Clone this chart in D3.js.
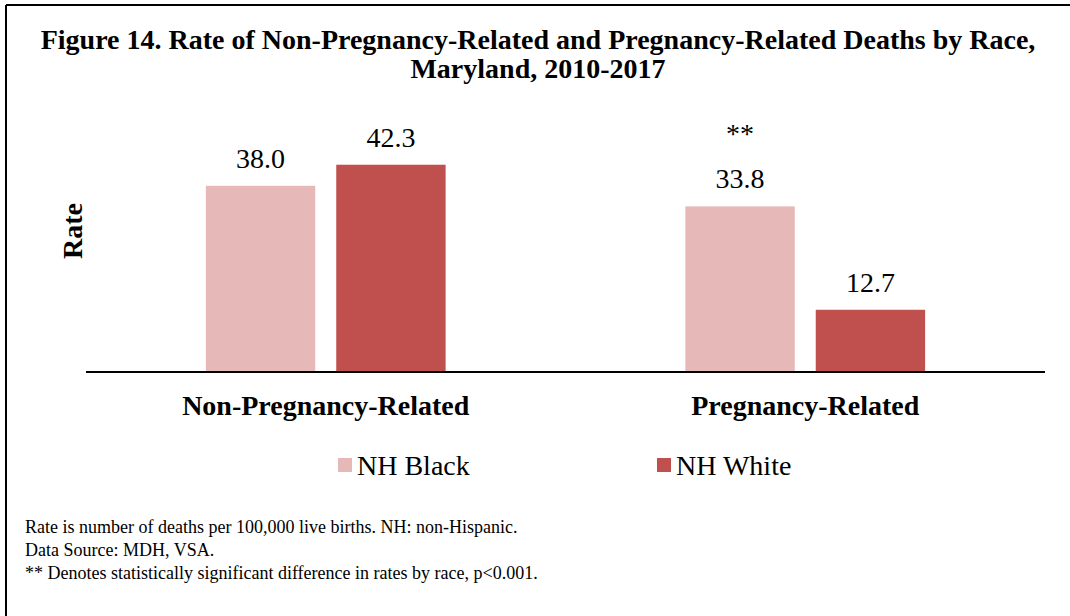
<!DOCTYPE html>
<html lang="en">
<head>
  <meta charset="UTF-8">
  <title>Figure 14. Rate of Non-Pregnancy-Related and Pregnancy-Related Deaths by Race</title>
  <style>
    body { margin: 0; background: #fff; }
    svg { display: block; }
    svg text { font-family: "Liberation Serif", "Times New Roman", serif; fill: #000; }
  </style>
</head>
<body>
  <svg id="chart" width="1070" height="616"></svg>

  <script src="https://d3js.org/d3.v7.min.js"></script>
  <script>
    // data
    const categories = ["Non-Pregnancy-Related", "Pregnancy-Related"];
    const seriesNames = ["NH Black", "NH White"];
    const blackValues = [38.0, 33.8];
    const whiteValues = [42.3, 12.7];
    const significant = [false, true];   // ** marker over the group
    const footnotes = [
      "Rate is number of deaths per 100,000 live births. NH: non-Hispanic.",
      "Data Source: MDH, VSA.",
      "** Denotes statistically significant difference in rates by race, p<0.001."
    ];
    const colors = ["#E6B9B8", "#C0504D"];

    const serif = "Liberation Serif, Times New Roman, serif";
    const svg = d3.select("#chart");
    const plot = { left: 86, right: 1045, top: 127, bottom: 372 };

    // frame (only top and left edges show in the picture)
    svg.append("line").attr("x1", 6).attr("y1", 5).attr("x2", 1070).attr("y2", 5)
      .attr("stroke", "#000").attr("stroke-width", 2);
    svg.append("line").attr("x1", 6).attr("y1", 5).attr("x2", 6).attr("y2", 616)
      .attr("stroke", "#000").attr("stroke-width", 2);

    // title
    const title = svg.append("text")
      .attr("font-family", serif)
      .attr("text-anchor", "middle")
      .attr("font-weight", "bold")
      .attr("font-size", 28);
    title.append("tspan").attr("x", 538).attr("y", 49)
      .text("Figure 14. Rate of Non-Pregnancy-Related and Pregnancy-Related Deaths by Race,");
    title.append("tspan").attr("x", 538).attr("y", 78)
      .text("Maryland, 2010-2017");

    // scales
    const x0 = d3.scaleBand().domain(categories).range([plot.left, plot.right]);
    const x1 = d3.scaleBand().domain(seriesNames)
      .range([x0.bandwidth() * 0.25, x0.bandwidth() * 0.75])
      .paddingInner(0.161);
    const y = d3.scaleLinear().domain([0, 50]).range([plot.bottom, plot.top]);

    const rows = categories.map((c, i) => ({
      category: c,
      sig: significant[i],
      values: [
        { series: seriesNames[0], value: blackValues[i] },
        { series: seriesNames[1], value: whiteValues[i] }
      ]
    }));

    const groups = svg.append("g").selectAll("g")
      .data(rows)
      .join("g")
      .attr("transform", d => `translate(${x0(d.category)},0)`);

    groups.selectAll("rect")
      .data(d => d.values)
      .join("rect")
      .attr("x", d => x1(d.series))
      .attr("y", d => y(d.value))
      .attr("width", x1.bandwidth())
      .attr("height", d => y(0) - y(d.value))
      .attr("fill", (d, i) => colors[i]);

    groups.selectAll("text.val")
      .data(d => d.values)
      .join("text")
      .attr("class", "val")
      .attr("x", d => x1(d.series) + x1.bandwidth() / 2)
      .attr("y", d => y(d.value) - 18)
      .attr("text-anchor", "middle")
      .attr("font-family", serif)
      .attr("font-size", 28)
      .text(d => d.value.toFixed(1));

    groups.filter(d => d.sig)
      .append("text")
      .attr("x", x1(seriesNames[0]) + x1.bandwidth() / 2)
      .attr("y", d => y(d.values[0].value) - 63)
      .attr("text-anchor", "middle")
      .attr("font-family", serif)
      .attr("font-size", 28)
      .text("**");

    // x axis
    const xAxis = svg.append("g")
      .attr("transform", `translate(0,${plot.bottom})`)
      .call(d3.axisBottom(x0).tickSize(0).tickPadding(0));
    xAxis.attr("font-family", serif);
    xAxis.select(".domain").attr("stroke", "#000").attr("stroke-width", 2)
      .attr("d", `M${plot.left},0H${plot.right}`);
    xAxis.selectAll(".tick text")
      .attr("dy", null)
      .attr("y", 43)
      .attr("font-family", serif)
      .attr("font-size", 28)
      .attr("font-weight", "bold")
      .attr("fill", "#000");

    // y label
    svg.append("text")
      .attr("transform", "translate(82,231) rotate(-90)")
      .attr("text-anchor", "middle")
      .attr("font-family", serif)
      .attr("font-size", 28)
      .attr("font-weight", "bold")
      .text("Rate");

    // legend
    const legendX = [338, 657];
    const legend = svg.append("g").selectAll("g")
      .data(seriesNames)
      .join("g")
      .attr("transform", (d, i) => `translate(${legendX[i]},458)`);
    legend.append("rect").attr("width", 14).attr("height", 14)
      .attr("fill", (d, i) => colors[i]);
    legend.append("text").attr("x", 19).attr("y", 17)
      .attr("font-family", serif)
      .attr("font-size", 28)
      .text(d => d);

    // footnotes
    svg.append("g").selectAll("text")
      .data(footnotes)
      .join("text")
      .attr("x", 25)
      .attr("y", (d, i) => 533 + i * 23)
      .attr("font-family", serif)
      .attr("font-size", 18)
      .text(d => d);
  </script>
</body>
</html>
